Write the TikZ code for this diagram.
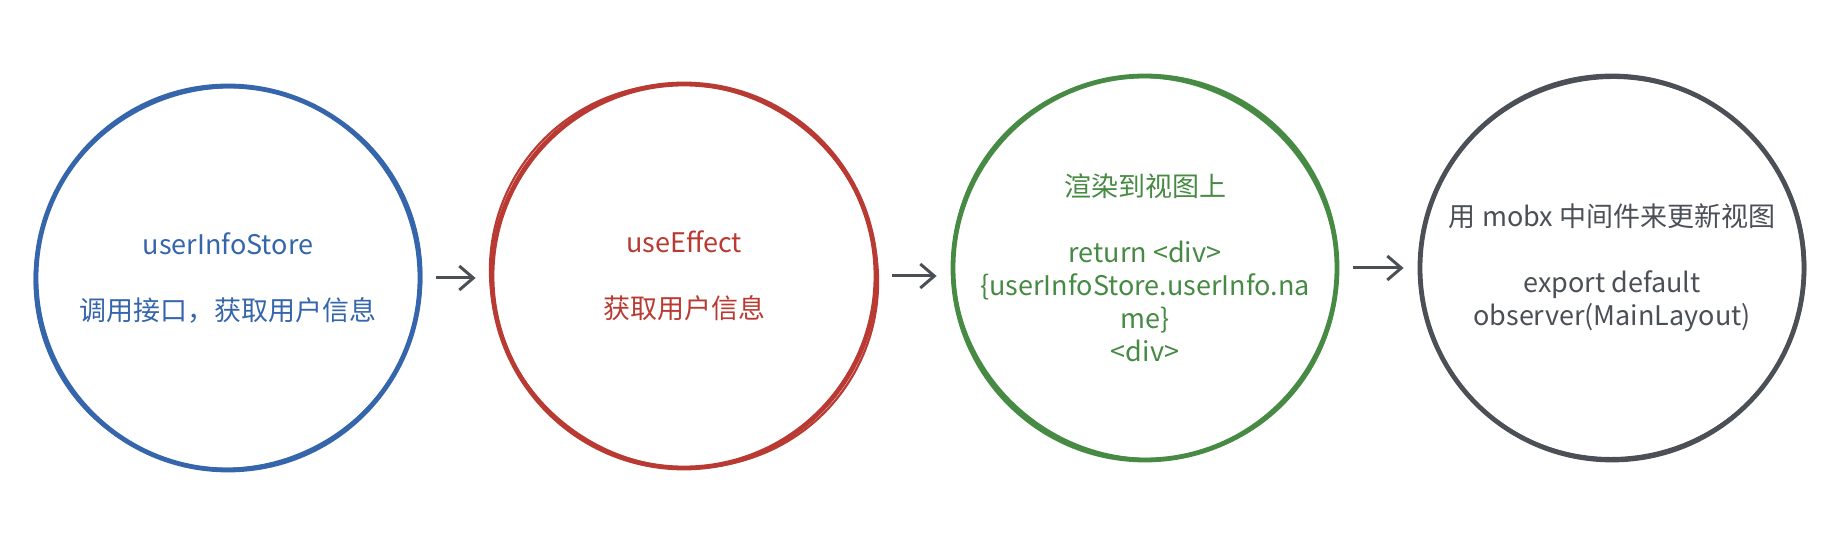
\documentclass[tikz,border=0pt]{standalone}
\usepackage{fontspec}
\setmainfont{Noto Sans CJK SC}
\usetikzlibrary{positioning,arrows.meta}
\definecolor{storeblue}{HTML}{3565AB}
\definecolor{effectred}{HTML}{B83A33}
\definecolor{viewgreen}{HTML}{468A44}
\definecolor{mobxgray}{HTML}{4B4F56}

\begin{document}
\begin{tikzpicture}[x=0.5pt,y=-0.5pt,
	ring/.style={draw,circle,line width=2.4pt,minimum size=192pt,inner sep=0pt,
		align=center,font=\fontsize{13.5}{16.5}\selectfont},
	rough/.style={line width=1.1pt},
	arr/.style={draw=mobxgray,line width=1.5pt,-{Straight Barb[length=7pt,width=12pt]},
		shorten <=7pt,shorten >=7pt}]
	\useasboundingbox (0,0) rectangle (1844,550);
	\node [ring, storeblue] (store) at (228,278) {userInfoStore\\[16.5pt]调用接口，获取用户信息};
	\node [ring, effectred] (effect) at (684,276) {useEffect\\[16.5pt]获取用户信息};
	\node [ring, viewgreen] (view) at (1145,268) {渲染到视图上\\[16.5pt]return <div>\\\{userInfoStore.userInfo.na\\me\}\\<div>};
	\node [ring, mobxgray] (mobx) at (1612,268) {用 mobx 中间件来更新视图\\[16.5pt]export default\\observer(MainLayout)};
	% second pen strokes
	\draw [rough, storeblue, rotate around={25:(store.center)}] (store.center) ellipse [x radius=194, y radius=190];
	\draw [rough, effectred, rotate around={-35:(effect.center)}] (effect.center) ellipse [x radius=196, y radius=190];
	\draw [rough, viewgreen, rotate around={-40:(view.center)}] (view.center) ellipse [x radius=194, y radius=189];
	\draw [rough, mobxgray, rotate around={10:(mobx.center)}] (mobx.center) ellipse [x radius=193, y radius=190];
	\draw [arr] (store.east) -- (store.east -| effect.west);
	\draw [arr] (effect.east) -- (effect.east -| view.west);
	\draw [arr] (view.east) -- (view.east -| mobx.west);
\end{tikzpicture}
\end{document}
